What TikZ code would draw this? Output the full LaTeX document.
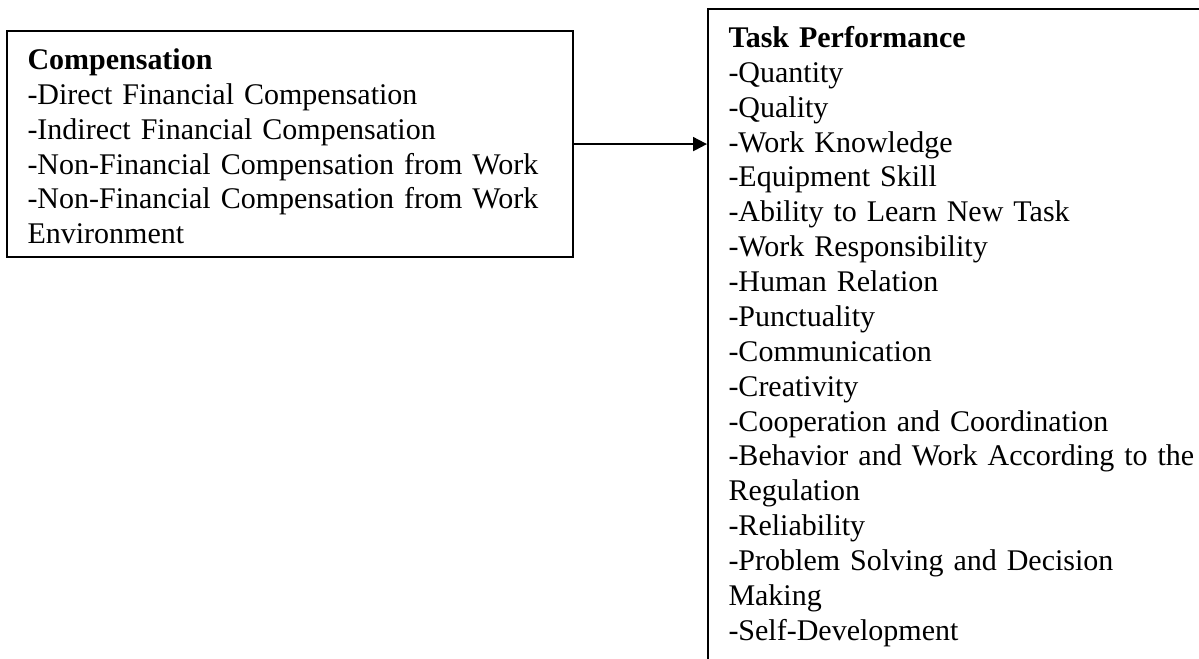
\documentclass[tikz,border=0pt]{standalone}
\usepackage{fontspec}
\setmainfont{Liberation Serif}
\usetikzlibrary{arrows.meta}

\newcommand{\topstrut}{\rule{0pt}{10.2pt}}

\begin{document}
\begin{tikzpicture}[>={Triangle[length=5.6pt,width=5.6pt]},
  box/.style={draw,line width=0.8pt,rectangle,align=left,anchor=north west,
    inner xsep=8.2pt,inner ysep=5.2pt,font=\fontsize{12}{13.95}\selectfont}]
  \useasboundingbox (0,0) rectangle (479.6pt,263.2pt);
  % compensation box
  \node[box,text width=210pt] (comp) at (2.4pt,251.2pt) {%
    \topstrut\textbf{Compensation}\\
    -Direct Financial Compensation\\
    -Indirect Financial Compensation\\
    -Non-Financial Compensation from Work\\
    -Non-Financial Compensation from Work\\
    Environment};
  % task performance box, runs off the page
  \node[box,text width=240pt] (task) at (282.8pt,260pt) {%
    \topstrut\textbf{Task Performance}\\
    -Quantity\\
    -Quality\\
    -Work Knowledge\\
    -Equipment Skill\\
    -Ability to Learn New Task\\
    -Work Responsibility\\
    -Human Relation\\
    -Punctuality\\
    -Communication\\
    -Creativity\\
    -Cooperation and Coordination\\
    -Behavior and Work According to the\\
    Regulation\\
    -Reliability\\
    -Problem Solving and Decision\\
    Making\\
    -Self-Development\rule[-40pt]{0pt}{0pt}};
  \draw[->,line width=0.8pt] (comp.east) -- (comp.east -| task.west);
\end{tikzpicture}
\end{document}
